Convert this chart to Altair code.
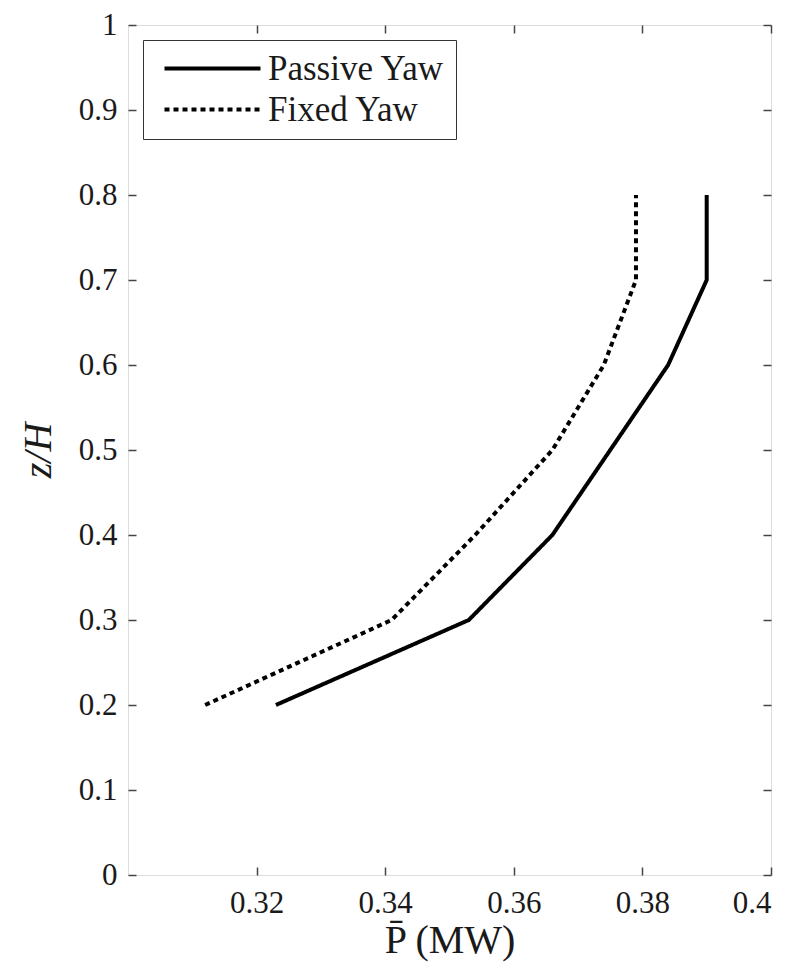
import altair as alt
import pandas as pd

# Normalised height z/H and mean power for the two yaw configurations
z_levels = [0.2, 0.3, 0.4, 0.5, 0.6, 0.7, 0.8]
passive_yaw = [0.323, 0.353, 0.366, 0.375, 0.384, 0.390, 0.390]
fixed_yaw = [0.312, 0.341, 0.354, 0.366, 0.374, 0.379, 0.379]

series_names = ["Passive Yaw", "Fixed Yaw"]
x_ticks = [0.32, 0.34, 0.36, 0.38, 0.40]
y_ticks = [0, 0.1, 0.2, 0.3, 0.4, 0.5, 0.6, 0.7, 0.8, 0.9, 1.0]

rows = []
for name, values in zip(series_names, [passive_yaw, fixed_yaw]):
    for z, p in zip(z_levels, values):
        rows.append({"series": name, "z": z, "P": p})
df = pd.DataFrame(rows)

FONT = "Liberation Serif"
INK = "#1a1a1a"
FRAME = "#444444"
TICK = 8

x_scale = alt.Scale(domain=[0.30, 0.40], nice=False, zero=False)
y_scale = alt.Scale(domain=[0, 1], nice=False)

common_axis = dict(
    grid=False, domain=False, tickColor=FRAME, tickWidth=1.5,
    tickSize=TICK, offset=-TICK,
    labelFont=FONT, labelColor=INK, labelFontSize=31,
    titleFont=FONT, titleColor=INK,
)

# Long horizontal legend swatch on a compact row height
SWATCH = "M-3.2,0H3.2"

lines = alt.Chart(df).mark_line(color="black", strokeWidth=4, strokeCap="butt").encode(
    x=alt.X("P:Q", scale=x_scale,
            axis=alt.Axis(values=x_ticks, format=".2~f", labelPadding=TICK + 5,
                          title="P\u0304 (MW)", titleFontSize=40, titleFontWeight="normal",
                          titlePadding=2, **common_axis)),
    y=alt.Y("z:Q", scale=y_scale,
            axis=alt.Axis(values=y_ticks, format=".1~f", labelPadding=TICK + 3,
                          title="z/H", titleFontSize=40, titleFontStyle="italic",
                          titleFontWeight="normal", titlePadding=20, **common_axis)),
    strokeDash=alt.StrokeDash(
        "series:N",
        scale=alt.Scale(domain=series_names, range=[[1, 0], [5, 4]]),
        legend=alt.Legend(
            title=None, orient="top-left", offset=15, padding=11,
            fillColor="white", strokeColor="#333333",
            symbolType=SWATCH, symbolSize=900, symbolStrokeWidth=4,
            symbolStrokeColor="black", symbolOffset=41,
            labelFont=FONT, labelFontSize=35, labelLimit=400,
            labelColor=INK, labelOffset=38, rowPadding=5,
        ),
    ),
    order=alt.Order("z:Q"),
)

# Invisible copy carrying the top and right tick marks of the box
mirror_axis = dict(common_axis, labels=False, title=None)
mirror = alt.Chart(df).mark_line(strokeOpacity=0).encode(
    x=alt.X("P:Q", scale=x_scale, axis=alt.Axis(orient="top", values=x_ticks, **mirror_axis)),
    y=alt.Y("z:Q", scale=y_scale, axis=alt.Axis(orient="right", values=y_ticks, **mirror_axis)),
    detail="series:N",
)

chart = alt.layer(lines, mirror).resolve_axis(x="independent", y="independent").properties(
    width=643, height=850,
    autosize=alt.AutoSizeParams(type="none"),
    padding={"left": 128, "top": 25, "right": 28, "bottom": 102},
).configure_view(stroke=FRAME, strokeWidth=2).configure(background="white")

chart.save("out.html", embed_options={"renderer": "svg", "actions": False})
